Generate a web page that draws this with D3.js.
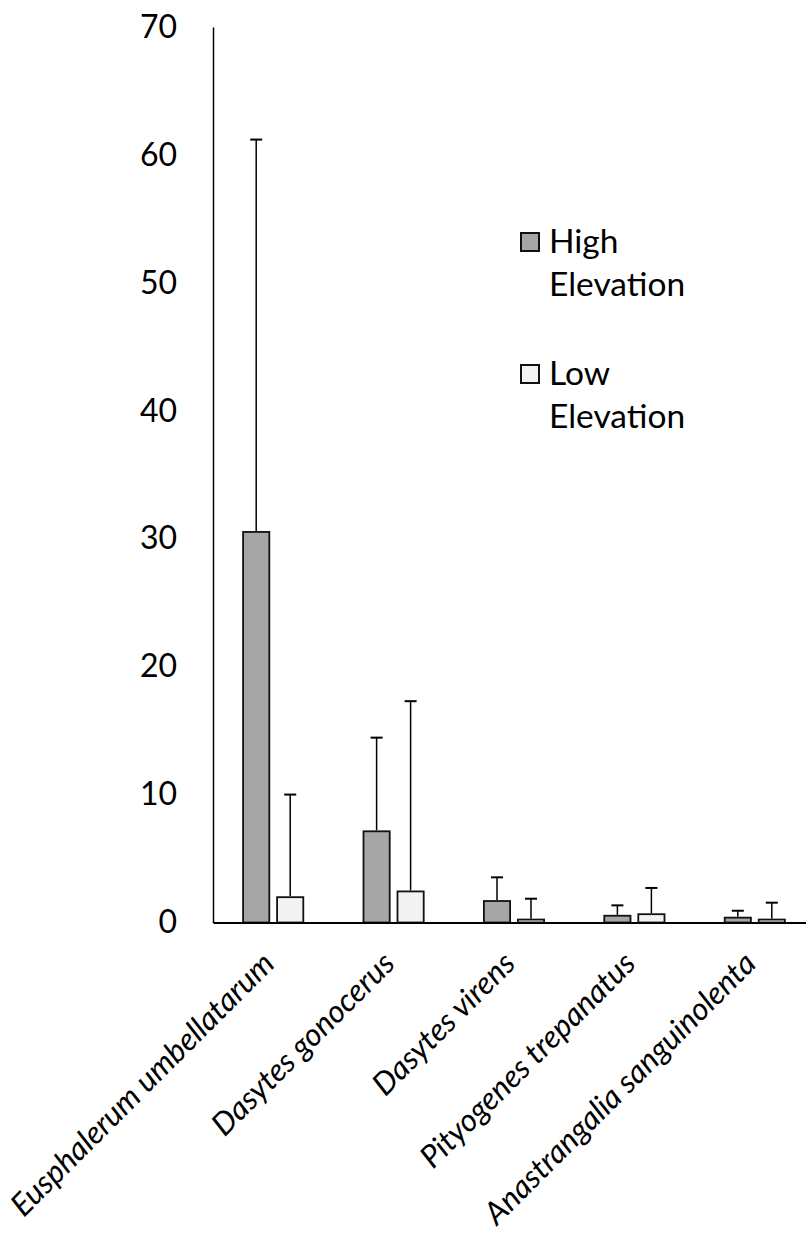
<!DOCTYPE html>
<html>
<head>
<meta charset="utf-8">
<script src="https://cdn.jsdelivr.net/npm/d3@7"></script>
<style>
  html, body { margin: 0; padding: 0; background: #fff; }
  svg { display: block; }
  text { font-family: Lato, "Open Sans", sans-serif; fill: #000; }
</style>
</head>
<body>
<div id="chart"></div>
<script>
// Beetle abundance by species, high vs low elevation (mean with upper SD bar)
const categories = [
  "Eusphalerum umbellatarum",
  "Dasytes gonocerus",
  "Dasytes virens",
  "Pityogenes trepanatus",
  "Anastrangalia sanguinolenta"
];
const seriesNames = ["High Elevation", "Low Elevation"];
const highMean = [30.6, 7.2, 1.75, 0.6, 0.45];
const highSD   = [30.6, 7.25, 1.78, 0.74, 0.47];
const lowMean  = [2.05, 2.5, 0.3, 0.72, 0.3];
const lowSD    = [7.95, 14.8, 1.56, 1.98, 1.25];
const yTicks   = [0, 10, 20, 30, 40, 50, 60, 70];

const seriesFill = ["#a6a6a6", "#f2f2f2"];

const W = 806, H = 1236;
const svg = d3.select("#chart").append("svg")
  .attr("width", W).attr("height", H);

const x0 = d3.scaleBand()
  .domain(categories)
  .range([213, 815])
  .paddingInner(0.485)
  .paddingOuter(0.2425);

const x1 = d3.scaleBand()
  .domain([0, 1])
  .range([0, x0.bandwidth()])
  .paddingInner(0.176);

const y = d3.scaleLinear().domain([0, 70]).range([922.5, 27]);

// Y axis: no tick marks, labels only
const yAxis = svg.append("g")
  .attr("transform", "translate(213,0)")
  .call(d3.axisLeft(y).tickValues(yTicks).tickSize(0).tickSizeOuter(0).tickPadding(36));
yAxis.select(".domain").attr("stroke", "#000").attr("stroke-width", 1.5);
yAxis.selectAll("text").attr("font-size", 32).attr("font-family", "Lato, sans-serif");

// Grouped data rows
const rows = categories.map((c, i) => ({
  cat: c,
  vals: [
    { s: 0, mean: highMean[i], sd: highSD[i] },
    { s: 1, mean: lowMean[i], sd: lowSD[i] }
  ]
}));

const groups = svg.append("g").selectAll("g")
  .data(rows).join("g")
  .attr("transform", d => `translate(${x0(d.cat)},0)`);

// error bars (upper only)
const capW = 12;
groups.selectAll("line.err")
  .data(d => d.vals).join("line")
  .attr("class", "err")
  .attr("x1", d => x1(d.s) + x1.bandwidth() / 2)
  .attr("x2", d => x1(d.s) + x1.bandwidth() / 2)
  .attr("y1", d => y(d.mean))
  .attr("y2", d => y(d.mean + d.sd))
  .attr("stroke", "#000").attr("stroke-width", 1.5);
groups.selectAll("line.cap")
  .data(d => d.vals).join("line")
  .attr("class", "cap")
  .attr("x1", d => x1(d.s) + x1.bandwidth() / 2 - capW / 2)
  .attr("x2", d => x1(d.s) + x1.bandwidth() / 2 + capW / 2)
  .attr("y1", d => y(d.mean + d.sd))
  .attr("y2", d => y(d.mean + d.sd))
  .attr("stroke", "#000").attr("stroke-width", 2);

// bars
groups.selectAll("rect")
  .data(d => d.vals).join("rect")
  .attr("x", d => x1(d.s) + 0.9)
  .attr("width", x1.bandwidth() - 1.8)
  .attr("y", d => y(d.mean) + 0.9)
  .attr("height", d => Math.max(0, y(0) - y(d.mean) - 0.9))
  .attr("fill", d => seriesFill[d.s])
  .attr("stroke", "#111").attr("stroke-width", 1.8);

// X axis with rotated italic species names
const xAxis = svg.append("g")
  .attr("transform", `translate(0,${y(0)})`)
  .call(d3.axisBottom(x0).tickSize(0).tickSizeOuter(0));
xAxis.select(".domain").attr("stroke", "#000").attr("stroke-width", 2);
xAxis.selectAll("text")
  .attr("font-size", 31.3)
  .attr("font-style", "italic")
  .attr("font-family", "Lato, sans-serif")
  .attr("text-anchor", "end")
  .attr("dy", null)
  .attr("y", 0)
  .attr("transform", "translate(3,43) rotate(-45)");

// Legend
const legend = svg.append("g");
const legY = [253, 385];
seriesNames.forEach((name, i) => {
  const words = name.split(" ");
  legend.append("rect")
    .attr("x", 521).attr("y", legY[i] - 20)
    .attr("width", 18).attr("height", 18)
    .attr("fill", seriesFill[i])
    .attr("stroke", "#111").attr("stroke-width", 2);
  legend.append("text")
    .attr("x", 549).attr("y", legY[i])
    .attr("font-size", 33.5)
    .text(words[0]);
  legend.append("text")
    .attr("x", 549).attr("y", legY[i] + 43)
    .attr("font-size", 33.5)
    .text(words[1]);
});
</script>
</body>
</html>
